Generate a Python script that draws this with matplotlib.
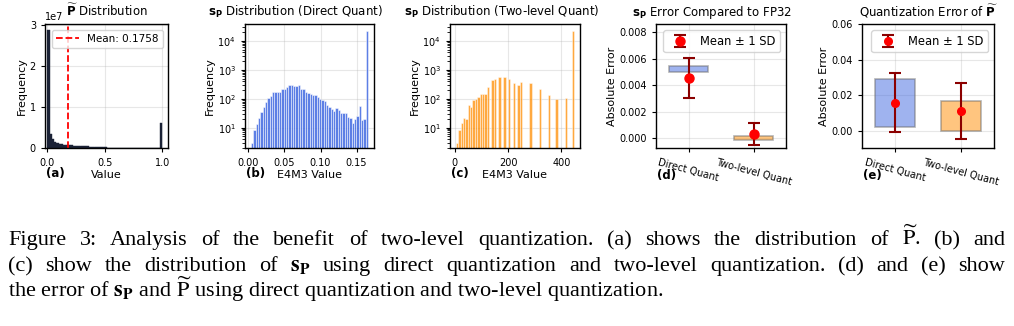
import numpy as np
import matplotlib
matplotlib.use("Agg")
import matplotlib.pyplot as plt

# --- data ---
# (a) distribution of P~ : 50 bins over [0, 1], counts in millions
p_counts_m = [28.8, 3.6, 2.2, 1.7, 1.4, 1.2, 1.05, 0.95, 0.87, 0.8,
              0.74, 0.7, 0.66, 0.62, 0.58, 0.55, 0.52, 0.49, 0.46, 0.43,
              0.4, 0.37, 0.34, 0.31, 0.28, 0.25, 0.21, 0.18, 0.15, 0.12,
              0.1, 0.08, 0.065, 0.05, 0.04, 0.033, 0.027, 0.022, 0.018, 0.015,
              0.013, 0.011, 0.01, 0.009, 0.009, 0.009, 0.01, 0.012, 0.02, 6.3]
p_range = (0.0, 1.0)
p_mean = 0.1758

# (b) s_P with direct quantization: 50 bins
direct_counts = [2.9, 8.3, 13.4, 22, 35, 50, 78, 106, 124, 170,
                 170, 170, 170, 215, 225, 260, 295, 295, 274, 274,
                 295, 215, 215, 175, 160, 150, 134, 134, 111, 100,
                 92, 81, 62, 53, 45, 39, 48, 41, 33, 33,
                 31, 24, 22, 14, 20, 26, 56, 18, 20, 22000]
direct_range = (0.0035, 0.166)

# (c) s_P with two-level quantization: 50 bins (empty bins are 0)
twolevel_counts = [3, 8, 14, 22, 20, 60, 50, 88, 100, 118,
                   150, 150, 145, 250, 0, 430, 490, 0, 560, 0,
                   560, 0, 470, 0, 340, 0, 290, 370, 0, 0,
                   0, 340, 0, 0, 0, 210, 0, 0, 0, 138,
                   0, 0, 95, 0, 0, 0, 110, 0, 0, 22000]
twolevel_range = (4.0, 448.0)

methods = ["Direct Quant", "Two-level Quant"]
# (d) error of s_P vs FP32
sp_box_low = [0.0050, -0.00015]
sp_box_high = [0.00545, 0.00012]
sp_mean = [0.00455, 0.00028]
sp_sd = [0.0015, 0.00085]
# (e) quantization error of P~
p_box_low = [0.0021, 0.0]
p_box_high = [0.0293, 0.0170]
p_err_mean = [0.0159, 0.0112]
p_err_sd = [0.0168, 0.0158]

caption_lines = [
    r"Figure 3: Analysis of the benefit of two-level quantization. (a) shows the distribution of $\widetilde{\mathrm{P}}$. (b) and",
    r"(c) show the distribution of $\mathbf{s}_\mathbf{P}$ using direct quantization and two-level quantization. (d) and (e) show",
    r"the error of $\mathbf{s}_\mathbf{P}$ and $\widetilde{\mathrm{P}}$ using direct quantization and two-level quantization.",
]

W, H = 1014, 326
fig = plt.figure(figsize=(W / 100, H / 100), dpi=100)


def px_axes(left, right, top=24.5, bottom=148.5):
    return fig.add_axes([left / W, 1 - bottom / H, (right - left) / W, (bottom - top) / H])


TICK = 7
LAB = 8
TITLE = 8.5


def style(ax):
    ax.grid(True, alpha=0.3)
    ax.set_axisbelow(True)
    ax.tick_params(labelsize=TICK, length=3, width=0.8)
    for s in ax.spines.values():
        s.set_linewidth(1.0)


def hist_bars(ax, counts, rng, **kw):
    edges = np.linspace(rng[0], rng[1], len(counts) + 1)
    ax.bar(edges[:-1], counts, width=np.diff(edges), align="edge", **kw)


def panel_label(ax, text, y_px):
    x_px = ax.get_position().x0 * W + 1
    fig.text(x_px / W, 1 - y_px / H, text, fontsize=8.5, fontweight="bold",
             ha="left", va="center")


# (a)
ax = px_axes(45, 168)
hist_bars(ax, np.array(p_counts_m) * 1e6, p_range, color="#1b2236",
          edgecolor="#1b2236", linewidth=0.3)
ax.axvline(p_mean, color="red", linestyle="--", linewidth=1.3, label=f"Mean: {p_mean:.4f}")
ax.set_xlim(-0.02, 1.05)
ax.set_ylim(0, 3.02e7)
ax.set_yticks([0, 1e7, 2e7, 3e7])
ax.set_xticks([0.0, 0.5, 1.0])
ax.set_title(r"$\widetilde{\mathbf{P}}$ Distribution", fontsize=TITLE)
ax.set_xlabel("Value", fontsize=LAB, labelpad=2)
ax.set_ylabel("Frequency", fontsize=LAB, labelpad=2)
ax.legend(loc="upper right", fontsize=7.5, handlelength=2.2)
ax.yaxis.get_offset_text().set_fontsize(TICK)
style(ax)
panel_label(ax, "(a)", 174)

# (b)
ax = px_axes(245, 374)
hist_bars(ax, direct_counts, direct_range, color="royalblue", alpha=0.85,
          edgecolor="white", linewidth=0.4)
ax.set_yscale("log")
ax.set_ylim(1.9, 3.7e4)
ax.set_xticks([0.0, 0.05, 0.10, 0.15])
ax.set_title(r"$\mathbf{s_P}$ Distribution (Direct Quant)", fontsize=TITLE, x=0.39)
ax.set_xlabel("E4M3 Value", fontsize=LAB, labelpad=2)
ax.set_ylabel("Frequency", fontsize=LAB, labelpad=2)
style(ax)
panel_label(ax, "(b)", 174)

# (c)
ax = px_axes(450, 580)
hist_bars(ax, twolevel_counts, twolevel_range, color="darkorange", alpha=0.75,
          edgecolor="white", linewidth=0.4)
ax.set_yscale("log")
ax.set_ylim(1.9, 3.7e4)
ax.set_xticks([0, 200, 400])
ax.set_title(r"$\mathbf{s_P}$ Distribution (Two-level Quant)", fontsize=TITLE, x=0.40)
ax.set_xlabel("E4M3 Value", fontsize=LAB, labelpad=2)
ax.set_ylabel("Frequency", fontsize=LAB, labelpad=2)
style(ax)
panel_label(ax, "(c)", 174)


def error_panel(ax, low, high, mean, sd, ms):
    x = np.arange(len(methods))
    ax.bar(x, np.array(high) - np.array(low), bottom=low, width=0.6,
           color=["royalblue", "darkorange"], alpha=0.5, edgecolor="dimgray", linewidth=1.2)
    ax.errorbar(x, mean, yerr=sd, fmt="o", color="red", ecolor="darkred",
                elinewidth=1.5, capsize=4.5, capthick=1.5, markersize=ms,
                label="Mean ± 1 SD")
    ax.set_xlim(-0.5, 1.5)
    ax.set_xticks(x)
    ax.set_xticklabels(methods, rotation=-15, ha="center", fontsize=LAB)
    ax.set_ylabel("Absolute Error", fontsize=LAB, labelpad=2)
    ax.legend(loc="upper right", fontsize=8.3)
    style(ax)


# (d)
ax = px_axes(656, 786)
error_panel(ax, sp_box_low, sp_box_high, sp_mean, sp_sd, 6.5)
ax.set_ylim(-0.0008, 0.0086)
ax.set_yticks([0.0, 0.002, 0.004, 0.006, 0.008])
ax.set_title(r"$\mathbf{s_P}$ Error Compared to FP32", fontsize=TITLE, x=0.43)
panel_label(ax, "(d)", 176)

# (e)
ax = px_axes(862, 994)
error_panel(ax, p_box_low, p_box_high, p_err_mean, p_err_sd, 5.5)
ax.set_ylim(-0.01, 0.06)
ax.set_yticks([0.0, 0.02, 0.04, 0.06])
ax.set_title(r"Quantization Error of $\widetilde{\mathbf{P}}$", fontsize=TITLE)
panel_label(ax, "(e)", 176)

# caption, first two lines justified
CAP = 16
renderer = fig.canvas.get_renderer()
baselines = [245, 271, 297]
x_left, x_right = 8, 1005
for i, line in enumerate(caption_lines):
    y = 1 - baselines[i] / H
    if i == len(caption_lines) - 1:
        fig.text(x_left / W, y, line, fontsize=CAP, family="Liberation Serif",
                 math_fontfamily="stix", va="baseline", ha="left")
        continue
    words = line.split(" ")
    texts = [fig.text(0, y, w, fontsize=CAP, family="Liberation Serif",
                      math_fontfamily="stix", va="baseline", ha="left") for w in words]
    widths = [t.get_window_extent(renderer).width for t in texts]
    gap = (x_right - x_left - sum(widths)) / (len(words) - 1)
    x = x_left
    for t, w in zip(texts, widths):
        t.set_x(x / W)
        x += w + gap

fig.savefig("out.png", dpi=100)
